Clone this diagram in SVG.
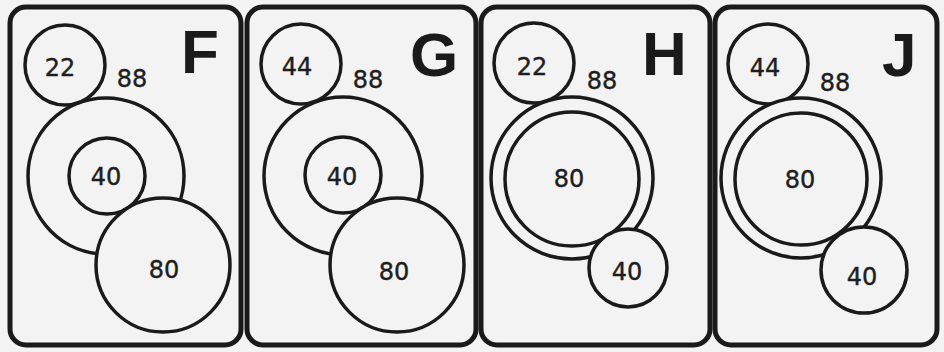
<svg xmlns="http://www.w3.org/2000/svg" width="944" height="352" viewBox="0 0 944 352">
<style>
.bg{fill:#f3f3f3}
.panel{fill:#f3f3f3;stroke:#1a1a1a;stroke-width:5}
.c{fill:#f3f3f3;stroke:#1a1a1a;stroke-width:3.5}
.n{font-family:"DejaVu Sans",sans-serif;font-size:24px;fill:#1e1e1e;stroke:#1e1e1e;stroke-width:0.4;text-anchor:middle}
.L{font-family:"Liberation Sans",Arial,sans-serif;font-weight:bold;font-size:62px;fill:#1a1a1a}
</style>
<rect class="bg" x="0" y="0" width="944" height="352"/>
<g id="panel-F">
<rect class="panel" x="10" y="7" width="231" height="338" rx="16"/>
<circle class="c" cx="106" cy="176" r="78"/>
<circle class="c" cx="107" cy="176" r="38"/>
<circle class="c" cx="65" cy="65" r="40"/>
<circle class="c" cx="163" cy="265" r="67"/>
<text class="n" x="60" y="76">22</text>
<text class="n" x="132" y="87">88</text>
<text class="n" x="106" y="185">40</text>
<text class="n" x="164" y="278">80</text>
<text class="L" x="181" y="73">F</text>
</g>
<g id="panel-G">
<rect class="panel" x="247" y="7" width="229" height="338" rx="16"/>
<circle class="c" cx="343" cy="176" r="79"/>
<circle class="c" cx="343" cy="175" r="38"/>
<circle class="c" cx="301" cy="64" r="40"/>
<circle class="c" cx="397" cy="265" r="67"/>
<text class="n" x="297" y="75">44</text>
<text class="n" x="368" y="88">88</text>
<text class="n" x="342" y="185">40</text>
<text class="n" x="394" y="280">80</text>
<text class="L" x="410" y="76">G</text>
</g>
<g id="panel-H">
<rect class="panel" x="481" y="7" width="229" height="338" rx="16"/>
<circle class="c" cx="534" cy="63" r="40"/>
<circle class="c" cx="572" cy="178" r="81"/>
<circle class="c" cx="572" cy="179" r="67"/>
<circle class="c" cx="628" cy="268" r="39"/>
<text class="n" x="532" y="75">22</text>
<text class="n" x="602" y="89">88</text>
<text class="n" x="569" y="187">80</text>
<text class="n" x="627" y="280">40</text>
<text class="L" x="642" y="75">H</text>
</g>
<g id="panel-J">
<rect class="panel" x="715" y="7" width="222" height="338" rx="16"/>
<circle class="c" cx="768" cy="64" r="40"/>
<circle class="c" cx="801" cy="178" r="80"/>
<circle class="c" cx="801" cy="179" r="66"/>
<circle class="c" cx="864" cy="270" r="43"/>
<text class="n" x="765" y="76">44</text>
<text class="n" x="835" y="91">88</text>
<text class="n" x="800" y="188">80</text>
<text class="n" x="862" y="285">40</text>
<text class="L" x="882" y="76">J</text>
</g>
<g id="connectors"></g>
</svg>
